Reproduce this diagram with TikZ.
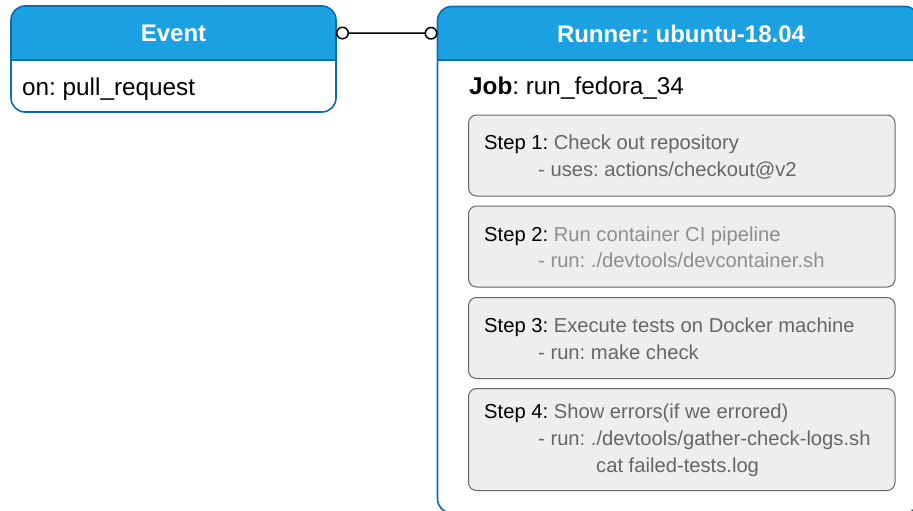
\documentclass[tikz,border=0pt]{standalone}
\usepackage{fontspec}
\setmainfont{Liberation Sans}
\usetikzlibrary{arrows.meta}

\definecolor{hdrfill}{HTML}{1BA1E2}
\definecolor{hdrline}{HTML}{0A6DB0}
\definecolor{stepline}{HTML}{666666}
\definecolor{stepfill}{HTML}{EEEEEE}
\definecolor{desc}{HTML}{666666}
\definecolor{desclight}{HTML}{8E8E8E}

\tikzset{
  tablebox/.style={anchor=north west, inner sep=0pt, outer sep=0pt, fill=white},
  tableedge/.style={draw=hdrline, line width=1.6pt, rounded corners=14pt},
  headband/.style={inner sep=0pt, outer sep=0pt},
  headtitle/.style={text=white, font=\fontsize{24}{28}\selectfont\bfseries, inner sep=0pt},
  rowtext/.style={anchor=base west, inner sep=0pt, font=\fontsize{24.3}{28}\selectfont},
  stepbox/.style={anchor=north west, draw=stepline, fill=stepfill, line width=1pt,
                  rounded corners=8pt, inner sep=0pt, minimum width=426.5pt},
  steptext/.style={anchor=base west, inner sep=0pt, font=\fontsize{20.2}{24}\selectfont, text=desc},
  ring/.tip={Circle[open, fill=white, length=13pt, width=13pt, line width=1.5pt]},
  link/.style={line width=1.5pt, ring-ring},
}

\begin{document}
\frenchspacing
\begin{tikzpicture}[x=1pt, y=-1pt]
\useasboundingbox (0,0) rectangle (913,511);
\clip (0,0) rectangle (913,511);

% ---------- Event table ----------
\node[tablebox, minimum width=325pt, minimum height=106pt] (event) at (11,6) {};
\begin{scope}
  \clip (11,6) rectangle (336,60);
  \fill[hdrfill, rounded corners=14pt] (event.north west) rectangle (event.south east);
\end{scope}
\node[headband, minimum width=325pt, minimum height=54pt, anchor=north west] (evhead) at (11,6) {};
\node[headtitle] (evtitle) at (173.5,33.5) {Event};
\draw[hdrline, line width=1.6pt] (evhead.south west) -- (evhead.south east);
\draw[tableedge] (event.north west) rectangle (event.south east);
\node[rowtext] (evrow) at (22,95.5) {on: pull\_request};

% ---------- Runner table ----------
\node[tablebox, minimum width=481.5pt, minimum height=506.5pt] (runner) at (437.5,6.5) {};
\begin{scope}
  \clip (437.5,6.5) rectangle (919,60);
  \fill[hdrfill, rounded corners=14pt] (runner.north west) rectangle (runner.south east);
\end{scope}
\node[headband, minimum width=481.5pt, minimum height=53.5pt, anchor=north west] (rhead) at (437.5,6.5) {};
\node[headtitle] (rtitle) at (681,33.5) {Runner: ubuntu-18.04};
\draw[hdrline, line width=1.6pt] (rhead.south west) -- (rhead.south east);
\draw[tableedge] (runner.north west) rectangle (runner.south east);
\node[rowtext] (job) at (469,95) {\textbf{Job}: run\_fedora\_34};

% ---------- Steps ----------
\node[stepbox, minimum height=81pt]  (step1) at (468,114.5) {};
\node[stepbox, minimum height=81pt]  (step2) at (468,205.5) {};
\node[stepbox, minimum height=81pt]  (step3) at (468,297) {};
\node[stepbox, minimum height=102pt] (step4) at (468,388) {};

\node[steptext] (s1a) at (484,149.5) {\textcolor{black}{Step 1:} Check out repository};
\node[steptext] (s1b) at (538,176)   {- uses: actions/checkout@v2};

\node[steptext, text=desclight] (s2a) at (484,241) {\textcolor{black}{Step 2:} Run container CI pipeline};
\node[steptext, text=desclight] (s2b) at (538,267.5) {- run: ./devtools/devcontainer.sh};

\node[steptext] (s3a) at (484,332.5) {\textcolor{black}{Step 3:} Execute tests on Docker machine};
\node[steptext] (s3b) at (538,359)   {- run: make check};

\node[steptext] (s4a) at (484,418) {\textcolor{black}{Step 4:} Show errors(if we errored)};
\node[steptext] (s4b) at (538,445.5) {- run: ./devtools/gather-check-logs.sh};
\node[steptext] (s4c) at (596,472.5) {cat failed-tests.log};

% ---------- Relation between the two tables ----------
\draw[link] (evhead.east) -- (rhead.west);
\end{tikzpicture}
\end{document}
